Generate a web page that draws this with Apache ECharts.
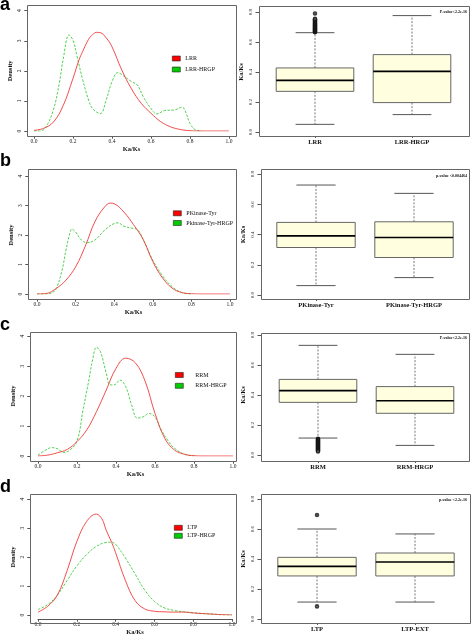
<!DOCTYPE html>
<html><head><meta charset="utf-8">
<script src="https://cdn.jsdelivr.net/npm/echarts@6/dist/echarts.min.js"></script>
<style>html,body{margin:0;padding:0;background:#fff}#c{width:472px;height:637px}</style>
</head><body><div id="c"></div>
<script>
// ---------- DATA ----------
const densityXTicks = ['0.0','0.2','0.4','0.6','0.8','1.0'];
const densityYTicks = ['0','1','2','3','4'];
const boxYTicks = ['0.0','0.2','0.4','0.6','0.8'];

// a
const densLRR = [[0,0.02],[0.05,0.09],[0.1,0.3],[0.15,0.85],[0.2,1.75],[0.23,2.35],[0.25,2.65],[0.28,3.05],[0.3,3.2],[0.32,3.28],[0.34,3.27],[0.37,3.1],[0.4,2.8],[0.45,2.03],[0.5,1.4],[0.55,0.92],[0.6,0.59],[0.65,0.31],[0.7,0.14],[0.75,0.05],[0.8,0.01],[0.85,0],[1.0,0]];
const densLRRHRGP = [[0,0],[0.03,0],[0.06,0.12],[0.1,0.72],[0.13,1.6],[0.15,2.4],[0.18,3.19],[0.2,3.02],[0.22,2.5],[0.25,1.7],[0.28,1.03],[0.3,0.75],[0.34,0.58],[0.37,1.03],[0.4,1.64],[0.43,1.94],[0.46,1.83],[0.5,1.64],[0.53,1.53],[0.56,1.14],[0.6,0.75],[0.63,0.57],[0.67,0.68],[0.72,0.7],[0.76,0.79],[0.78,0.59],[0.8,0.25],[0.83,0.03],[0.86,0]];
const catsA = ['LRR','LRR-HRGP'];
const boxA = [[0,0.051,0.271,0.344,0.427,0.662],[1,0.116,0.196,0.404,0.516,0.776]];
const outA = [[0,0.665],[0,0.668],[0,0.672],[0,0.675],[0,0.679],[0,0.683],[0,0.687],[0,0.69],[0,0.694],[0,0.698],[0,0.702],[0,0.706],[0,0.71],[0,0.714],[0,0.718],[0,0.722],[0,0.727],[0,0.731],[0,0.736],[0,0.741],[0,0.746],[0,0.75],[0,0.754],[0,0.79]];

// b
const densPK = [[0,0],[0.05,0.02],[0.1,0.19],[0.15,0.47],[0.2,0.92],[0.25,1.62],[0.3,2.45],[0.35,2.95],[0.38,3.08],[0.4,3.06],[0.45,2.78],[0.5,2.35],[0.55,1.85],[0.6,1.1],[0.65,0.55],[0.7,0.2],[0.75,0.05],[0.8,0.01],[0.85,0],[1.0,0]];
const densPKHRGP = [[0,0],[0.05,0],[0.08,0.05],[0.1,0.19],[0.13,0.81],[0.15,1.49],[0.17,2.05],[0.18,2.2],[0.2,2.1],[0.23,1.83],[0.26,1.74],[0.3,1.83],[0.35,2.16],[0.4,2.39],[0.42,2.41],[0.45,2.3],[0.5,2.22],[0.52,2.19],[0.55,1.85],[0.6,1.15],[0.65,0.62],[0.7,0.25],[0.75,0.05],[0.8,0]];
const catsB = ['PKinase-Tyr','PKinase-Tyr-HRGP'];
const boxB = [[0,0.062,0.314,0.391,0.48,0.727],[1,0.115,0.248,0.38,0.484,0.672]];
const outB = [];

// c
const densRRM = [[0,0],[0.05,0.03],[0.1,0.11],[0.15,0.22],[0.2,0.48],[0.25,0.87],[0.3,1.48],[0.35,2.2],[0.4,2.92],[0.45,3.26],[0.5,3.1],[0.55,2.48],[0.6,1.42],[0.65,0.59],[0.7,0.2],[0.75,0.06],[0.8,0.01],[0.85,0],[1.0,0]];
const densRRMHRGP = [[0,0.03],[0.04,0.2],[0.07,0.28],[0.1,0.24],[0.13,0.12],[0.16,0.18],[0.2,0.5],[0.23,1.5],[0.26,2.5],[0.28,3.2],[0.3,3.62],[0.32,3.48],[0.35,2.76],[0.37,2.37],[0.39,2.37],[0.42,2.53],[0.45,2.31],[0.48,1.7],[0.51,1.26],[0.54,1.31],[0.57,1.42],[0.6,1.3],[0.63,0.9],[0.67,0.48],[0.7,0.26],[0.75,0.06],[0.8,0]];
const catsC = ['RRM','RRM-HRGP'];
const boxC = [[0,0.113,0.351,0.429,0.504,0.731],[1,0.064,0.278,0.362,0.456,0.671]];
const outC = [[0,0.108],[0,0.104],[0,0.1],[0,0.096],[0,0.092],[0,0.088],[0,0.084],[0,0.08],[0,0.076],[0,0.072],[0,0.068],[0,0.064],[0,0.06],[0,0.056],[0,0.052],[0,0.048],[0,0.044],[0,0.04],[0,0.036],[0,0.032],[0,0.028],[0,0.024]];

// d
const densLTP = [[0,0.1],[0.05,0.3],[0.1,0.69],[0.15,1.53],[0.2,2.53],[0.25,3.22],[0.3,3.48],[0.33,3.31],[0.35,2.95],[0.38,2.5],[0.4,2.15],[0.45,1.2],[0.5,0.5],[0.55,0.21],[0.6,0.13],[0.65,0.11],[0.7,0.1],[0.75,0.1],[0.8,0.07],[0.85,0.05],[0.9,0.03],[0.95,0.01],[1.0,0]];
const densLTPHRGP = [[0,0.19],[0.05,0.36],[0.1,0.69],[0.15,1.19],[0.2,1.69],[0.25,2.08],[0.3,2.36],[0.35,2.5],[0.38,2.51],[0.4,2.44],[0.45,1.97],[0.5,1.42],[0.55,0.86],[0.6,0.47],[0.65,0.25],[0.7,0.16],[0.75,0.11],[0.8,0.08],[0.85,0.05],[0.9,0.03],[0.95,0.01],[1.0,0]];
const catsD = ['LTP','LTP-EXT'];
const boxD = [[0,0.113,0.287,0.351,0.411,0.6],[1,0.113,0.287,0.38,0.44,0.567]];
const outD = [[0,0.693],[0,0.084]];

// ---------- LAYOUT ----------
const panels = [
  {letter:'a', letterTop:-4, red:densLRR, green:densLRRHRGP, redName:'LRR', greenName:'LRR-HRGP', cats:catsA, box:boxA, out:outA, pval:'P-value<2.2e-16',
   df:[27,5,236,136], dd:[34,229,131,10.7], bf:[259,6,469,136], bd:[315,412,132,12], lg:[172,55.5,5,0], pTop:10},
  {letter:'b', letterTop:152, red:densPK, green:densPKHRGP, redName:'PKinase-Tyr', greenName:'Pkinase-Tyr-HRGP', cats:catsB, box:boxB, out:outB, pval:'p-value <0.004464',
   df:[28,169,236,299], dd:[37,230,294,176], bf:[261,169,469,299], bd:[316,414,295,174], lg:[173,210.3,3.7,0], pTop:174},
  {letter:'c', letterTop:316, red:densRRM, green:densRRMHRGP, redName:'RRM', greenName:'RRM-HRGP', cats:catsC, box:boxC, out:outC, pval:'P-value<2.2e-16',
   df:[30,332,236,461], dd:[38,233,456,336], bf:[261,333,469,461], bd:[318,415,455,335], lg:[175,372,4.8,7], pTop:336},
  {letter:'d', letterTop:478, red:densLTP, green:densLTPHRGP, redName:'LTP', greenName:'LTP-HRGP', cats:catsD, box:boxD, out:outD, pval:'p-value <2.2e-16',
   df:[30,494,236,623], dd:[38,232,619,499], bf:[261,494,470,623], bd:[317,415,619,499], lg:[174,524.8,2,0], pTop:498}
];

const SERIF = 'Liberation Serif';
const AX = '#555';
const grids = [], xAxes = [], yAxes = [], series = [], legends = [], graphics = [];

function renderBox(params, api) {
  const c = api.value(0);
  const band = api.size([1, 0])[0];
  const w = band * 0.8, hw = w / 2, sw = w / 4;
  const pMin = api.coord([c, api.value(1)]);
  const pQ1 = api.coord([c, api.value(2)]);
  const pMed = api.coord([c, api.value(3)]);
  const pQ3 = api.coord([c, api.value(4)]);
  const pMax = api.coord([c, api.value(5)]);
  const x = pMed[0];
  const dash = {stroke:'#555', lineWidth:0.8, lineDash:[2,1.5]};
  const solid = {stroke:'#555', lineWidth:1};
  return {type:'group', children:[
    {type:'line', shape:{x1:x,y1:pQ3[1],x2:x,y2:pMax[1]}, style:dash},
    {type:'line', shape:{x1:x,y1:pQ1[1],x2:x,y2:pMin[1]}, style:dash},
    {type:'line', shape:{x1:x-sw,y1:pMax[1],x2:x+sw,y2:pMax[1]}, style:solid},
    {type:'line', shape:{x1:x-sw,y1:pMin[1],x2:x+sw,y2:pMin[1]}, style:solid},
    {type:'rect', shape:{x:x-hw,y:pQ3[1],width:w,height:pQ1[1]-pQ3[1]}, style:{fill:'#FFFFE0',stroke:'#666',lineWidth:1}},
    {type:'line', shape:{x1:x-hw,y1:pMed[1],x2:x+hw,y2:pMed[1]}, style:{stroke:'#000',lineWidth:1.6}}
  ]};
}

function frame(r) {
  return {type:'rect', silent:true, z:10, shape:{x:r[0]+0.5, y:r[1]+0.5, width:r[2]-r[0], height:r[3]-r[1]},
    style:{fill:'none', stroke:'#666', lineWidth:1}};
}

panels.forEach(p => {
  // density data grid
  const gD = grids.length;
  grids.push({left:p.dd[0], top:p.dd[3], width:p.dd[1]-p.dd[0], height:p.dd[2]-p.dd[3]});
  const xD = xAxes.length;
  xAxes.push({gridIndex:gD, type:'value', min:0, max:1, interval:0.2, offset:p.df[3]-p.dd[2],
    axisLine:{show:true, onZero:false, lineStyle:{color:AX, width:1}}, axisTick:{show:true, length:2.7, lineStyle:{color:AX}},
    axisLabel:{fontSize:5.5, fontFamily:SERIF, color:'#222', margin:2.5, formatter:(v)=>densityXTicks[Math.round(v/0.2)]},
    splitLine:{show:false}, name:'Ka/Ks', nameLocation:'middle', nameGap:10,
    nameTextStyle:{fontSize:6.5, fontWeight:'bold', fontFamily:SERIF, color:'#111'}});
  const yD = yAxes.length;
  yAxes.push({gridIndex:gD, type:'value', min:0, max:4, interval:1, offset:p.dd[0]-p.df[0],
    axisLine:{show:true, onZero:false, lineStyle:{color:AX, width:1}}, axisTick:{show:true, length:2.7, lineStyle:{color:AX}},
    axisLabel:{fontSize:5.5, fontFamily:SERIF, color:'#222', margin:4, rotate:90, formatter:(v)=>densityYTicks[v]},
    splitLine:{show:false}, name:'Density', nameLocation:'middle', nameGap:13,
    nameTextStyle:{fontSize:6.5, fontWeight:'bold', fontFamily:SERIF, color:'#111'}});
  series.push({type:'line', name:p.redName, xAxisIndex:xD, yAxisIndex:yD, data:p.red, smooth:0.4, showSymbol:false, symbol:'none',
    lineStyle:{color:'#f03a3a', width:0.9}, itemStyle:{color:'#f03a3a'}, silent:true, z:3});
  series.push({type:'line', name:p.greenName, xAxisIndex:xD, yAxisIndex:yD, data:p.green, smooth:0.4, showSymbol:false, symbol:'none',
    lineStyle:{color:'#3ccc3c', width:0.9, type:[2.5,1.5]}, itemStyle:{color:'#3ccc3c'}, silent:true, z:2});
  legends.push({data:[{name:p.redName, itemStyle:{color:'#ff0000', borderColor:'#222', borderWidth:0.6}},
                      {name:p.greenName, itemStyle:{color:'#00cc00', borderColor:'#222', borderWidth:0.6}}],
    left:p.lg[0], top:p.lg[1], orient:'vertical', itemWidth:8, itemHeight:5, itemGap:p.lg[2], icon:'rect', padding:0,
    selectedMode:false, textStyle:{fontSize:6, fontFamily:SERIF, color:'#111', lineHeight:6, padding:[0,0,0,p.lg[3]]}});

  // box data grid
  const gB = grids.length;
  const half = (p.bd[1]-p.bd[0]) / 2;
  const bl = p.bd[0] - half;
  grids.push({left:bl, top:p.bd[3], width:(p.bd[1]-p.bd[0])*2, height:p.bd[2]-p.bd[3]});
  const xB = xAxes.length;
  xAxes.push({gridIndex:gB, type:'category', data:p.cats, offset:p.bf[3]-p.bd[2], boundaryGap:true,
    axisLine:{show:true, onZero:false, lineStyle:{color:AX, width:1}}, axisTick:{show:true, alignWithLabel:true, length:2, lineStyle:{color:AX}},
    axisLabel:{fontSize:6.5, fontWeight:'bold', fontFamily:SERIF, color:'#111', margin:2.5, interval:0}, splitLine:{show:false}});
  const yB = yAxes.length;
  yAxes.push({gridIndex:gB, type:'value', min:0, max:0.8, interval:0.2, offset:bl-p.bf[0],
    axisLine:{show:true, onZero:false, lineStyle:{color:AX, width:1}}, axisTick:{show:true, length:3.5, lineStyle:{color:AX}},
    axisLabel:{fontSize:5, fontFamily:SERIF, color:'#222', margin:6, rotate:90, formatter:(v)=>boxYTicks[Math.round(v/0.2)]},
    splitLine:{show:false}, name:'Ka/Ks', nameLocation:'middle', nameGap:14,
    nameTextStyle:{fontSize:6.5, fontWeight:'bold', fontFamily:SERIF, color:'#111'}});
  series.push({type:'custom', name:'box-'+p.letter, xAxisIndex:xB, yAxisIndex:yB, data:p.box, renderItem:renderBox,
    encode:{x:0, y:[1,2,3,4,5]}, silent:true, z:2});
  if (p.out.length) {
    series.push({type:'scatter', name:'out-'+p.letter, xAxisIndex:xB, yAxisIndex:yB, data:p.out, symbol:'emptyCircle', symbolSize:2.6,
      itemStyle:{color:'#111', borderColor:'#111', borderWidth:0.8}, silent:true, z:3});
  }
  graphics.push(frame(p.df));
  graphics.push(frame(p.bf));
  graphics.push({type:'text', left:0, top:p.letterTop, style:{text:p.letter, font:'bold 18px "Liberation Sans"', fill:'#000'}});
  graphics.push({type:'text', right:472-467, top:p.pTop, style:{text:p.pval, font:'bold 4px "Liberation Serif"', fill:'#111'}});
});

const chart = echarts.init(document.getElementById('c'), null, {renderer:'canvas'});
chart.setOption({
  animation:false,
  backgroundColor:'#fff',
  grid:grids, xAxis:xAxes, yAxis:yAxes, series:series, legend:legends, graphic:graphics
});
</script></body></html>
